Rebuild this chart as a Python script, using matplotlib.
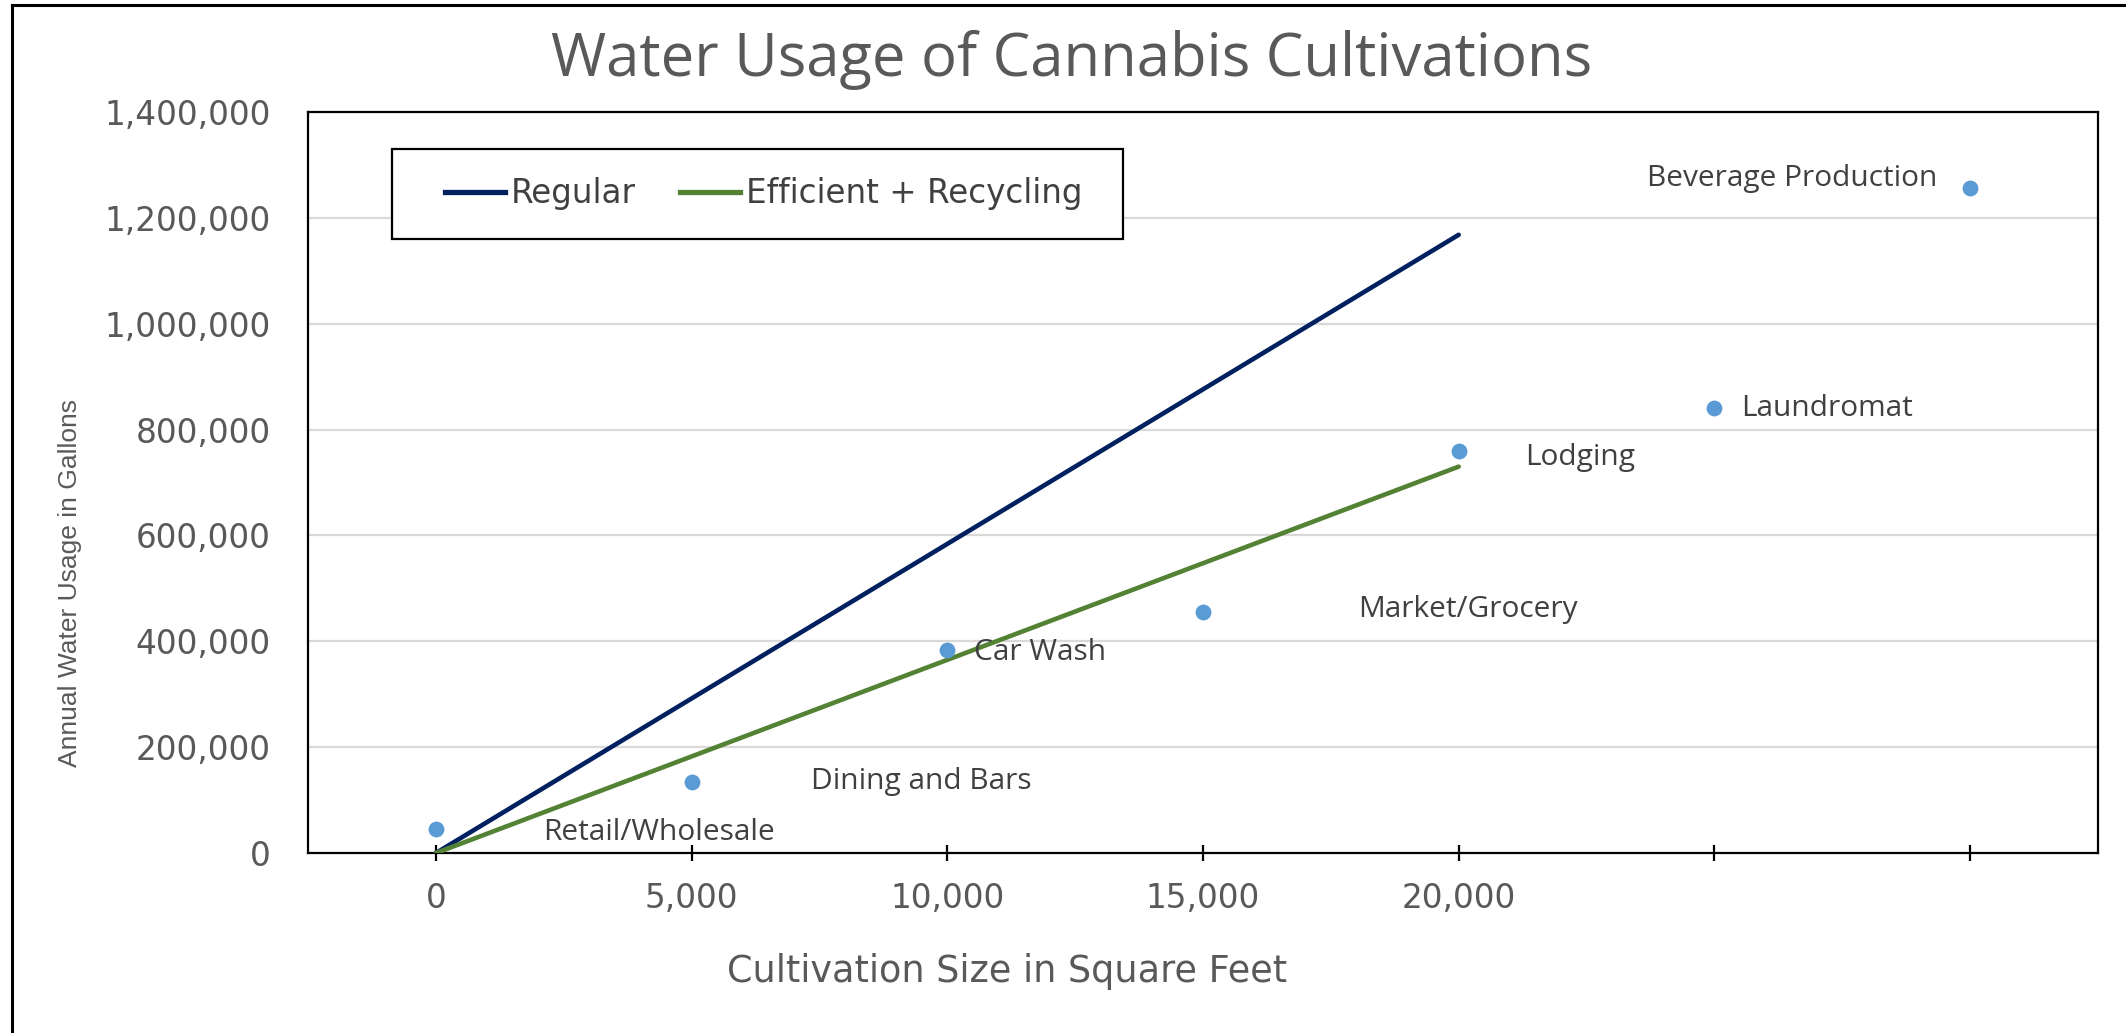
import matplotlib
matplotlib.use("Agg")
import matplotlib.pyplot as plt
from matplotlib.ticker import FixedLocator, FuncFormatter
from matplotlib.lines import Line2D
from matplotlib.patches import Rectangle

# ---- data ----
line_x = [0, 20000]
regular_y = [0, 1168000]
efficient_y = [0, 730000]

bench_names = ["Retail/Wholesale", "Dining and Bars", "Car Wash", "Market/Grocery",
               "Lodging", "Laundromat", "Beverage Production"]
bench_x = [0, 5000, 10000, 15000, 20000, 25000, 30000]
bench_y = [45000, 135000, 384000, 455000, 760000, 840000, 1257000]

x_ticks = [0, 5000, 10000, 15000, 20000, 25000, 30000]
x_tick_labels = ["0", "5,000", "10,000", "15,000", "20,000", "", ""]
y_ticks = [0, 200000, 400000, 600000, 800000, 1000000, 1200000, 1400000]

# label offsets in pixels (dx, dy, ha)
label_offsets = [(107, -3, "left"), (119, 0, "left"), (27, -3, "left"), (155, 3, "left"),
                 (66, -7, "left"), (27, 0, "left"), (-33, 9, "right")]

NAVY = "#002060"
GREEN = "#548235"
DOT = "#5B9BD5"
GRAY = "#595959"
DARK = "#404040"

fig = plt.figure(figsize=(21.26, 10.33), dpi=100)
ax = fig.add_axes([0.1449, 0.1742, 0.8419, 0.7174])

ax.set_xlim(-2500, 32500)
ax.set_ylim(0, 1400000)

ax.yaxis.set_major_locator(FixedLocator(y_ticks))
ax.yaxis.set_major_formatter(FuncFormatter(lambda v, p: f"{int(v):,}"))
ax.xaxis.set_major_locator(FixedLocator(x_ticks))
ax.set_xticklabels(x_tick_labels)

ax.grid(axis="y", color="#D9D9D9", linewidth=1.6, zorder=0)
ax.set_axisbelow(True)

for s in ax.spines.values():
    s.set_linewidth(1.6)
    s.set_color("black")

ax.tick_params(axis="y", length=0, pad=27, labelsize=23.5, labelcolor=GRAY)
ax.tick_params(axis="x", direction="inout", length=12, width=1.6, pad=15,
               labelsize=23.5, labelcolor=GRAY)
for lbl in ax.get_xticklabels() + ax.get_yticklabels():
    lbl.set_family("DejaVu Sans")

ax.plot(line_x, regular_y, color=NAVY, lw=3.3, solid_capstyle="round", label="Regular", zorder=3)
ax.plot(line_x, efficient_y, color=GREEN, lw=3.3, solid_capstyle="round",
        label="Efficient + Recycling", zorder=3)
ax.scatter(bench_x, bench_y, s=130, color=DOT, zorder=4, linewidths=0)

for name, x, y, (dx, dy, ha) in zip(bench_names, bench_x, bench_y, label_offsets):
    ax.annotate(name, (x, y), xytext=(dx, dy), textcoords="offset pixels",
                ha=ha, va="center", fontsize=21.5, color=DARK, family="Open Sans")

# legend box
ax.add_patch(Rectangle((0.0469, 0.8286), 0.4084, 0.1215, transform=ax.transAxes,
                       fill=True, facecolor="white", edgecolor="black", lw=1.6, zorder=5))
handles = [Line2D([], [], color=NAVY, lw=3.8), Line2D([], [], color=GREEN, lw=3.8)]
leg = ax.legend(handles, ["Regular", "Efficient + Recycling"], loc="center left",
                bbox_to_anchor=(0.0765, 0.8900), ncol=2, frameon=False,
                borderpad=0, handlelength=1.84, handletextpad=0.16, columnspacing=1.38,
                prop={"family": "DejaVu Sans", "size": 23.5}, borderaxespad=0)
leg.set_zorder(6)
for t in leg.get_texts():
    t.set_color(DARK)

fig.text(743 / 1568, 1 - 971 / 1033, "Cultivation Size in Square Feet", ha="center", va="center",
         fontsize=26.4, color=GRAY, family="DejaVu Sans")
fig.text(70 / 2126, 1 - 583 / 1033, "Annual Water Usage in Gallons", rotation=90,
         ha="center", va="center", fontsize=19, color=GRAY, family="Liberation Sans")
fig.text(790 / 1568, 1 - 60 / 1033, "Water Usage of Cannabis Cultivations", ha="center",
         va="center", fontsize=43, color=GRAY, family="Open Sans")

# outer chart border (left and top edges visible)
fig.add_artist(Line2D([12 / 2126, 12 / 2126], [0, 1 - 5 / 1033], transform=fig.transFigure,
                      color="black", lw=2.2))
fig.add_artist(Line2D([12 / 2126, 1], [1 - 5 / 1033, 1 - 5 / 1033], transform=fig.transFigure,
                      color="black", lw=2.2))

fig.savefig("out.png", dpi=100)
